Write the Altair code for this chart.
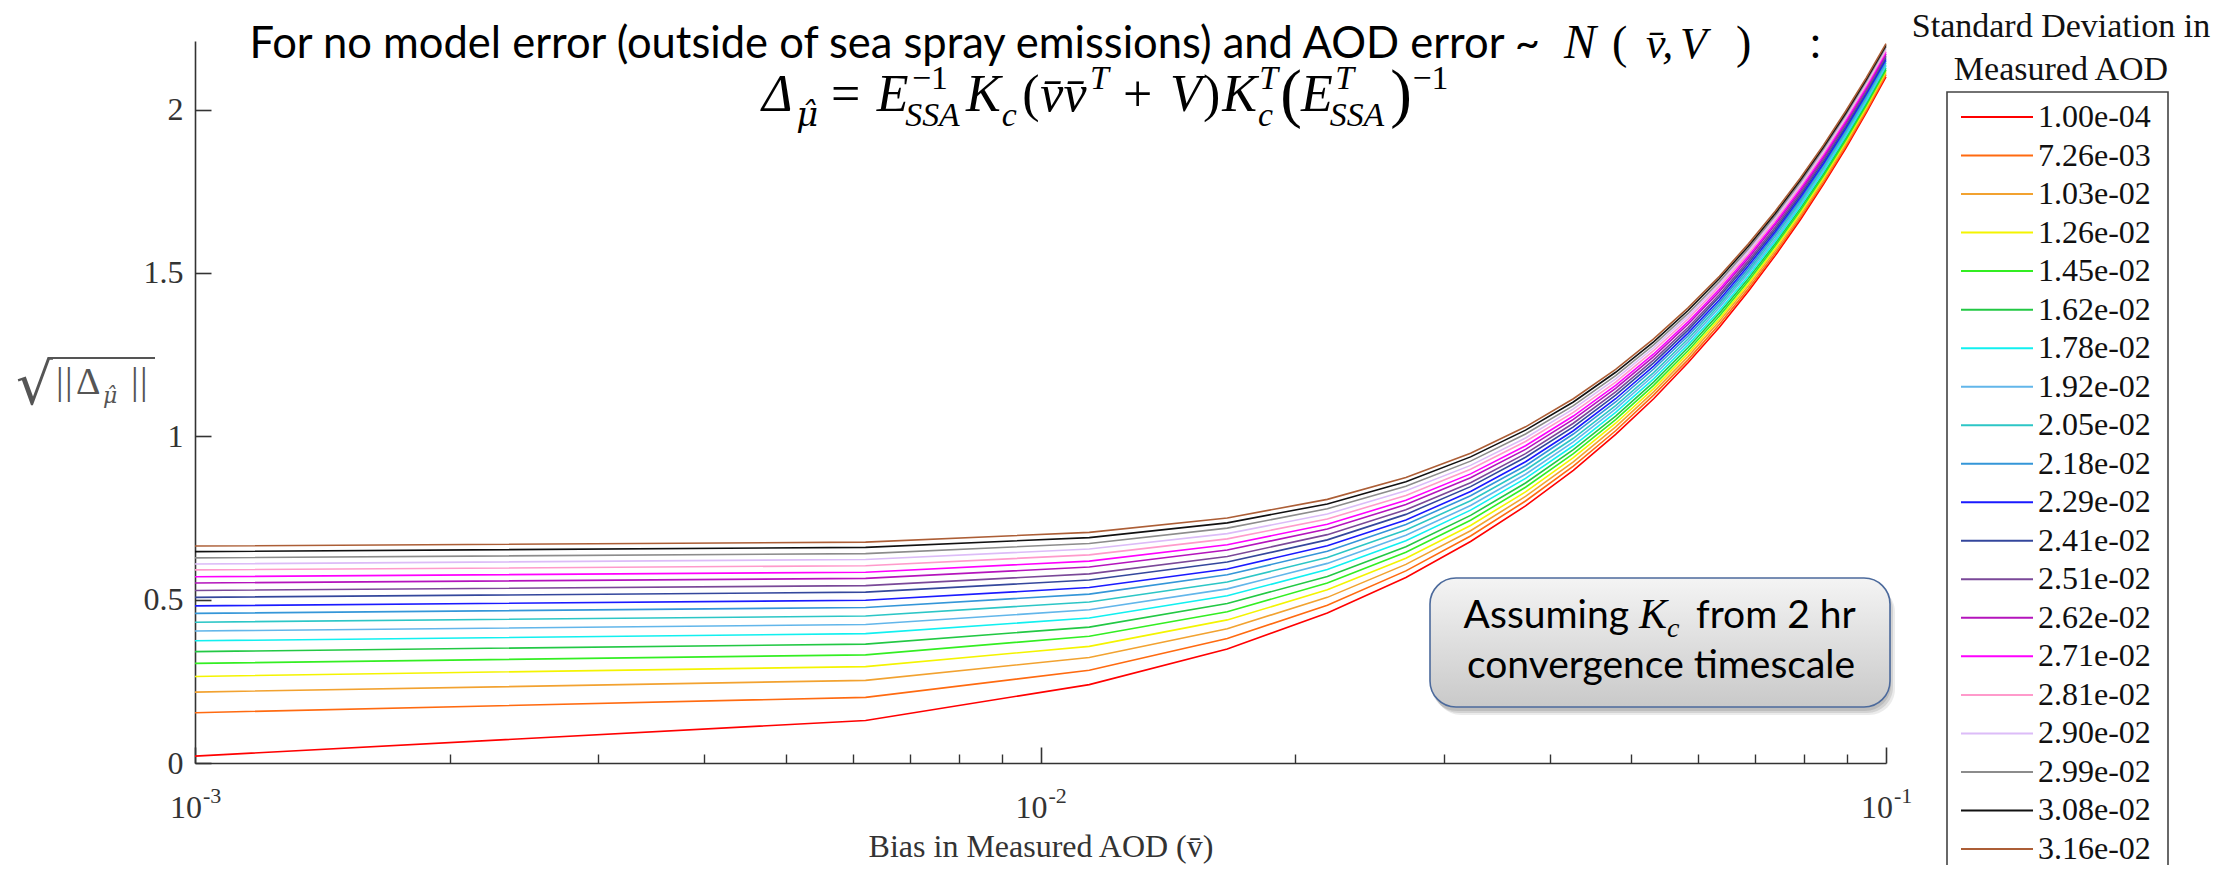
import altair as alt
import pandas as pd

# ---------------- data ----------------
x_bias = [0.001, 0.00621, 0.01142, 0.01663, 0.02184, 0.02705, 0.03226, 0.03747, 0.04268, 0.04789,
          0.05311, 0.05832, 0.06353, 0.06874, 0.07395, 0.07916, 0.08437, 0.08958, 0.09479, 0.1]

sd_labels = ["1.00e-04", "7.26e-03", "1.03e-02", "1.26e-02", "1.45e-02", "1.62e-02", "1.78e-02",
             "1.92e-02", "2.05e-02", "2.18e-02", "2.29e-02", "2.41e-02", "2.51e-02", "2.62e-02",
             "2.71e-02", "2.81e-02", "2.90e-02", "2.99e-02", "3.08e-02", "3.16e-02"]

sd_colors = ["#ff0000", "#ff6a10", "#f2a230", "#f4f400", "#33ee22", "#22c844", "#11f0f0",
             "#62b6ea", "#2cc6c6", "#3496d8", "#1a1aff", "#34479c", "#7a4898", "#b414bc",
             "#ff00ff", "#ff9acb", "#dcbcf8", "#8c8c8c", "#111111", "#ac5e36"]

y01 = [0.021, 0.130, 0.240, 0.349, 0.459, 0.568, 0.678, 0.787, 0.896, 1.006, 1.115, 1.225, 1.334, 1.444, 1.553, 1.662, 1.772, 1.881, 1.991, 2.100]
y02 = [0.154, 0.201, 0.284, 0.381, 0.483, 0.588, 0.695, 0.802, 0.909, 1.017, 1.126, 1.234, 1.343, 1.452, 1.560, 1.669, 1.778, 1.887, 1.996, 2.106]
y03 = [0.217, 0.253, 0.323, 0.411, 0.507, 0.608, 0.711, 0.816, 0.922, 1.029, 1.136, 1.244, 1.352, 1.460, 1.568, 1.676, 1.785, 1.894, 2.002, 2.111]
y04 = [0.265, 0.295, 0.357, 0.438, 0.530, 0.627, 0.727, 0.830, 0.935, 1.040, 1.146, 1.253, 1.360, 1.468, 1.575, 1.683, 1.791, 1.900, 2.008, 2.117]
y05 = [0.305, 0.331, 0.388, 0.463, 0.551, 0.645, 0.743, 0.844, 0.947, 1.051, 1.156, 1.262, 1.368, 1.475, 1.583, 1.690, 1.798, 1.906, 2.014, 2.122]
y06 = [0.341, 0.364, 0.416, 0.488, 0.571, 0.662, 0.758, 0.857, 0.959, 1.062, 1.166, 1.271, 1.377, 1.483, 1.590, 1.697, 1.804, 1.912, 2.019, 2.127]
y07 = [0.374, 0.396, 0.444, 0.512, 0.592, 0.680, 0.774, 0.871, 0.971, 1.073, 1.176, 1.280, 1.385, 1.491, 1.597, 1.704, 1.811, 1.918, 2.025, 2.133]
y08 = [0.404, 0.424, 0.469, 0.533, 0.611, 0.697, 0.788, 0.884, 0.983, 1.084, 1.186, 1.289, 1.394, 1.499, 1.604, 1.711, 1.817, 1.924, 2.031, 2.138]
y09 = [0.431, 0.450, 0.493, 0.554, 0.629, 0.713, 0.803, 0.897, 0.994, 1.094, 1.195, 1.298, 1.402, 1.506, 1.612, 1.717, 1.823, 1.930, 2.037, 2.144]
y10 = [0.458, 0.476, 0.517, 0.576, 0.648, 0.730, 0.818, 0.910, 1.007, 1.105, 1.206, 1.307, 1.410, 1.514, 1.619, 1.724, 1.830, 1.936, 2.043, 2.149]
y11 = [0.481, 0.498, 0.537, 0.594, 0.665, 0.744, 0.831, 0.922, 1.017, 1.115, 1.215, 1.316, 1.418, 1.522, 1.626, 1.731, 1.836, 1.942, 2.048, 2.154]
y12 = [0.507, 0.523, 0.560, 0.615, 0.683, 0.761, 0.846, 0.936, 1.029, 1.126, 1.225, 1.325, 1.427, 1.530, 1.633, 1.738, 1.843, 1.948, 2.054, 2.160]
y13 = [0.528, 0.543, 0.579, 0.632, 0.699, 0.775, 0.858, 0.947, 1.040, 1.136, 1.234, 1.333, 1.434, 1.537, 1.640, 1.744, 1.849, 1.954, 2.059, 2.165]
y14 = [0.551, 0.565, 0.600, 0.652, 0.716, 0.791, 0.873, 0.960, 1.052, 1.147, 1.244, 1.343, 1.443, 1.545, 1.648, 1.751, 1.855, 1.960, 2.065, 2.171]
y15 = [0.570, 0.584, 0.618, 0.668, 0.731, 0.804, 0.885, 0.971, 1.062, 1.156, 1.252, 1.350, 1.450, 1.552, 1.654, 1.757, 1.861, 1.965, 2.070, 2.176]
y16 = [0.591, 0.604, 0.637, 0.686, 0.747, 0.819, 0.899, 0.984, 1.073, 1.166, 1.262, 1.359, 1.459, 1.559, 1.661, 1.764, 1.867, 1.972, 2.076, 2.181]
y17 = [0.609, 0.623, 0.655, 0.702, 0.762, 0.833, 0.911, 0.995, 1.084, 1.176, 1.271, 1.368, 1.467, 1.567, 1.668, 1.770, 1.874, 1.977, 2.082, 2.187]
y18 = [0.628, 0.641, 0.672, 0.719, 0.778, 0.847, 0.924, 1.007, 1.094, 1.186, 1.280, 1.376, 1.474, 1.574, 1.675, 1.777, 1.880, 1.983, 2.087, 2.192]
y19 = [0.647, 0.660, 0.690, 0.735, 0.793, 0.861, 0.937, 1.019, 1.105, 1.196, 1.289, 1.385, 1.483, 1.582, 1.682, 1.784, 1.886, 1.989, 2.093, 2.197]
y20 = [0.664, 0.676, 0.706, 0.750, 0.807, 0.874, 0.948, 1.029, 1.115, 1.205, 1.298, 1.393, 1.490, 1.589, 1.689, 1.790, 1.892, 1.995, 2.098, 2.202]
series = [y01, y02, y03, y04, y05, y06, y07, y08, y09, y10,
          y11, y12, y13, y14, y15, y16, y17, y18, y19, y20]

x_major = [0.001, 0.01, 0.1]
x_minor = [0.002, 0.003, 0.004, 0.005, 0.006, 0.007, 0.008, 0.009,
           0.02, 0.03, 0.04, 0.05, 0.06, 0.07, 0.08, 0.09]
x_exp = ["-3", "-2", "-1"]
y_ticks = [0, 0.5, 1, 1.5, 2]

title_line1 = "For no model error (outside of sea spray emissions) and AOD error ~"
x_title = "Bias in Measured AOD (v\u0304)"
legend_title = ["Standard Deviation in", "Measured AOD"]
box_lines = ["Assuming", "K", "c", "from 2 hr", "convergence timescale"]

# ---------------- layout ----------------
SERIF = "Liberation Serif"
MATH = "DejaVu Serif"
SANS = "Lato"
AX = "#333333"
W, H = 1691, 722
OX, OY = 195, 41          # page position of the plot origin
PAD_L, PAD_T = OX - 8, OY - 8
PAD_R = 2208 - PAD_L - W
PAD_B = 857 - PAD_T - H


def rx(px):
    return px - OX


def ry(py):
    return py - OY


rows = []
for lab, ys in zip(sd_labels, series):
    for xv, yv in zip(x_bias, ys):
        rows.append({"bias": xv, "val": yv, "sd": lab})
df = pd.DataFrame(rows)

xs = alt.Scale(type="log", domain=[0.001, 0.1], nice=False)
ysc = alt.Scale(domain=[0, 2.21], nice=False, zero=False)
cs = alt.Scale(domain=sd_labels, range=sd_colors)

lines = alt.Chart(df).mark_line(strokeWidth=1.6).encode(
    x=alt.X("bias:Q", scale=xs, axis=alt.Axis(orient="bottom", values=x_major, labels=False,
                                               ticks=False, grid=False, domainColor=AX,
                                               domainWidth=1.6, title=None)),
    y=alt.Y("val:Q", scale=ysc, axis=alt.Axis(orient="left", values=y_ticks, format="~g",
                                              ticks=False, tickSize=0, grid=False,
                                              labelFont=SERIF, labelFontSize=32,
                                              labelColor="#333333", labelPadding=12,
                                              labelBaseline="middle", domainColor=AX,
                                              domainWidth=1.6, title=None)),
    color=alt.Color("sd:N", scale=cs, legend=None),
)

tick_major = alt.Chart(df).mark_point(opacity=0).encode(
    x=alt.X("bias:Q", scale=xs, axis=alt.Axis(orient="bottom", values=x_major, labels=False,
                                               domain=False, grid=False, tickSize=16,
                                               offset=-16, tickColor=AX, tickWidth=1.6,
                                               title=None)),
    y=alt.Y("val:Q", scale=ysc, axis=alt.Axis(orient="left", values=y_ticks, labels=False,
                                              domain=False, grid=False, tickSize=16,
                                              offset=-16, tickColor=AX, tickWidth=1.6,
                                              title=None)),
)

tick_minor = alt.Chart(df).mark_point(opacity=0).encode(
    x=alt.X("bias:Q", scale=xs, axis=alt.Axis(orient="bottom", values=x_minor, labels=False,
                                               domain=False, grid=False, tickSize=9,
                                               offset=-9, tickColor=AX, tickWidth=1.4,
                                               title=None)),
    y=alt.Y("val:Q", scale=ysc, axis=None),
)

xlab_df = pd.DataFrame({"bias": x_major, "base": ["10"] * 3, "exp": x_exp})
xlab_base = alt.Chart(xlab_df).mark_text(font=SERIF, fontSize=32, align="center",
                                         baseline="alphabetic", dx=-9, color="#333333").encode(
    x=alt.X("bias:Q", scale=xs, axis=None), y=alt.value(ry(818)), text="base:N")
xlab_exp = alt.Chart(xlab_df).mark_text(font=SERIF, fontSize=22, align="left",
                                        baseline="alphabetic", dx=8, dy=-15, color="#333333").encode(
    x=alt.X("bias:Q", scale=xs, axis=None), y=alt.value(ry(818)), text="exp:N")


def txt(s, px, py, size, font=SANS, style="normal", align="left", color="#000000",
        baseline="alphabetic"):
    return alt.Chart(pd.DataFrame({"t": [s]})).mark_text(
        font=font, fontSize=size, fontStyle=style, align=align, baseline=baseline,
        color=color).encode(x=alt.value(rx(px)), y=alt.value(ry(py)), text="t:N")


def one():
    return alt.Chart(pd.DataFrame({"a": [0]}))


layers = [lines, tick_major, tick_minor, xlab_base, xlab_exp]

# x axis title
layers.append(txt(x_title, 1041, 857, 32, font=SERIF, align="center", color="#333333"))

# y axis title  sqrt(||Delta_mu||)
YC = "#555555"
layers.append(txt("\u221a", 16, 404, 58, font="DejaVu Sans", color=YC))
for ch, px in [("|", 56), ("|", 65), ("\u0394", 76), ("|", 131), ("|", 140)]:
    layers.append(txt(ch, px, 394, 38, font=SERIF, color=YC))
layers.append(txt("\u03bc\u0302", 103, 403, 22, font=MATH, style="italic", color=YC))
layers.append(one().mark_rule(color=YC, strokeWidth=2).encode(
    x=alt.value(rx(50)), x2=alt.value(rx(155)), y=alt.value(ry(358))))

# title line 1
TY = 58
layers.append(txt(title_line1, 1540, TY, 43.5, align="right"))
for t, px, st, fnt, sz in [("N", 1564, "italic", SERIF, 48), ("(", 1612, "normal", SERIF, 46),
                           ("v\u0304,", 1646, "italic", SERIF, 44), ("V", 1680, "italic", SERIF, 44),
                           (")", 1736, "normal", SERIF, 46), (":", 1810, "normal", SANS, 43.5)]:
    layers.append(txt(t, px, TY, sz, font=fnt, style=st))

# formula line: Delta_mu = E^-1_SSA K_c (v v^T + V) K_c^T (E^T_SSA)^-1
F = 52
SP = 1.06
FX0, FY = 762, 111
pieces = [
    ("\u0394", 0.0, 0, "italic", 1.0, SERIF),
    ("\u03bc\u0302", 0.62, -1, "italic", 0.65, MATH),
    ("=", 1.25, 0, "normal", 1.0, SERIF),
    ("E", 2.08, 0, "italic", 1.0, SERIF),
    ("\u22121", 2.72, 1, "normal", 0.65, SERIF),
    ("SSA", 2.6, -1, "italic", 0.65, SERIF),
    ("K", 3.7, 0, "italic", 1.0, SERIF),
    ("c", 4.35, -1, "italic", 0.65, SERIF),
    ("(", 4.72, 0, "normal", 1.0, SERIF),
    ("v\u0304v\u0304", 5.05, 0, "italic", 1.0, SERIF),
    ("T", 5.95, 1, "italic", 0.65, SERIF),
    ("+", 6.55, 0, "normal", 1.0, SERIF),
    ("V", 7.4, 0, "italic", 1.0, SERIF),
    (")", 8.0, 0, "normal", 1.0, SERIF),
    ("K", 8.35, 0, "italic", 1.0, SERIF),
    ("T", 9.02, 1, "italic", 0.65, SERIF),
    ("c", 9.0, -1, "italic", 0.65, SERIF),
    ("(", 9.4, 0, "normal", 1.25, SERIF),
    ("E", 9.78, 0, "italic", 1.0, SERIF),
    ("T", 10.4, 1, "italic", 0.65, SERIF),
    ("SSA", 10.3, -1, "italic", 0.65, SERIF),
    (")", 11.4, 0, "normal", 1.25, SERIF),
    ("\u22121", 11.8, 1, "normal", 0.65, SERIF),
]
for t, ex, lvl, st, sc, fnt in pieces:
    dy = {0: 0, 1: -0.42 * F, -1: 0.28 * F}[lvl]
    if sc > 1.0:
        dy = 0.08 * F
    layers.append(txt(t, FX0 + ex * SP * F, FY + dy, sc * F, font=fnt, style=st))

# annotation box
BX0, BX1, BY0, BY1 = 1430, 1890, 578, 707
for off, op in [(8, 0.08), (6, 0.10), (4, 0.10)]:
    layers.append(one().mark_rect(fill="#000000", opacity=op, cornerRadius=26).encode(
        x=alt.value(rx(BX0 + off - 3)), x2=alt.value(rx(BX1 + off - 3)),
        y=alt.value(ry(BY0 + off)), y2=alt.value(ry(BY1 + off))))
grad = alt.Gradient(gradient="linear",
                    stops=[alt.GradientStop(color="#f4f4f4", offset=0),
                           alt.GradientStop(color="#c9c9c9", offset=1)],
                    x1=0, x2=0, y1=0, y2=1)
layers.append(one().mark_rect(fill=grad, stroke="#4c6a9c", strokeWidth=1.6, cornerRadius=26).encode(
    x=alt.value(rx(BX0)), x2=alt.value(rx(BX1)), y=alt.value(ry(BY0)), y2=alt.value(ry(BY1))))
layers.append(txt(box_lines[0], 1629, 628, 39, align="right"))
layers.append(txt(box_lines[1], 1639, 628, 42, font=SERIF, style="italic"))
layers.append(txt(box_lines[2], 1667, 637, 28, font=SERIF, style="italic"))
layers.append(txt(box_lines[3], 1696, 628, 39))
layers.append(txt(box_lines[4], 1661, 678, 39, align="center"))

# legend
layers.append(txt(legend_title[0], 2061, 37, 34, font=SERIF, align="center", color="#111111"))
layers.append(txt(legend_title[1], 2061, 80, 34, font=SERIF, align="center", color="#111111"))
layers.append(one().mark_rect(fill="white", stroke="#444444", strokeWidth=1.6).encode(
    x=alt.value(rx(1947)), x2=alt.value(rx(2168)), y=alt.value(ry(92)), y2=alt.value(ry(930))))
leg_df = pd.DataFrame({"sd": sd_labels})
leg_y = alt.Y("sd:N", scale=alt.Scale(type="point", domain=sd_labels,
                                      range=[ry(117), ry(849)], padding=0), axis=None)
layers.append(alt.Chart(leg_df).mark_rule(strokeWidth=2).encode(
    x=alt.value(rx(1961)), x2=alt.value(rx(2033)), y=leg_y,
    color=alt.Color("sd:N", scale=cs, legend=None)))
layers.append(alt.Chart(leg_df).mark_text(font=SERIF, fontSize=32, align="left",
                                          baseline="middle", color="#111111").encode(
    x=alt.value(rx(2038)), y=leg_y, text="sd:N"))

chart = alt.layer(*layers).resolve_scale(x="independent", y="independent").properties(
    width=W, height=H,
    padding={"left": PAD_L, "top": PAD_T, "right": PAD_R, "bottom": PAD_B},
    autosize=alt.AutoSizeParams(type="none"),
    background="white",
).configure_view(stroke=None)

chart.save("out.html", embed_options={"renderer": "svg", "actions": False})
